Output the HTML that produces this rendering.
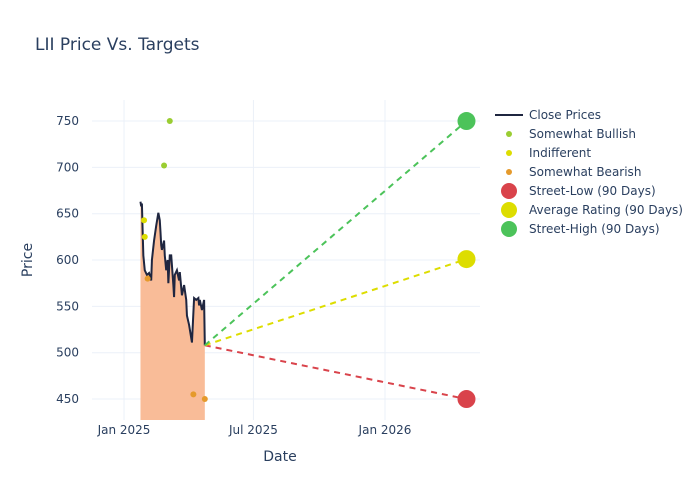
<!DOCTYPE html>
<html><head><meta charset="utf-8"><style>
body{margin:0;background:#fff;font-family:"DejaVu Sans",sans-serif}
text{font-family:"DejaVu Sans",sans-serif;fill:#2a3f5f}
</style></head><body>
<svg id="chart" width="700" height="500">
<rect width="700" height="500" fill="#fff"/>
<text x="35" y="50" font-size="17">LII Price Vs. Targets</text>
<g id="grid"></g><g id="marks"></g><g id="axes"></g><g id="legend"></g>
</svg>
<script>
const closeDays=[23,24,25,26,27,29,32,35,38,39,42,45,48,50,51,52,53,56,57,59,61,62,64,66,69,70,71,74,77,78,81,84,87,88,91,95,98,101,104,105,106,109,112,113];
const closePrices=[663,658,661,632,605,589,584,586,578,600,621,637,651,643,630,616,611,621,605,589,600,575,605,605,573,560,584,589,578,587,562,573,557,540,530,511,559,557,559,551,557,546,557,508];
const bullishDays=[56,64];const bullishVals=[702,750];
const indiffDays=[28,29];const indiffVals=[643,625];
const bearishDays=[33,97,113];const bearishVals=[580,455,450];
const targetDay=479;const targetLow=450;const targetAvg=601;const targetHigh=750;
const yTicks=[450,500,550,600,650,700,750];
const xTickDays=[0,181,365];const xTickLabels=["Jan 2025","Jul 2025","Jan 2026"];
const X0=92,X1=480,Y0=100,Y1=420,D0=-44.8,D1=497.9,P0=427.4,P1=772.7;
const xs=d=>X0+(d-D0)/(D1-D0)*(X1-X0);
const ys=p=>Y1-(p-P0)/(P1-P0)*(Y1-Y0);
const NS="http://www.w3.org/2000/svg";
function mk(parent,tag,attrs){const e=document.createElementNS(NS,tag);for(const k in attrs)e.setAttribute(k,attrs[k]);document.getElementById(parent).appendChild(e);return e;}
yTicks.forEach(t=>{
 const l=mk('grid','line',{x1:X0,x2:X1,y1:ys(t),y2:ys(t),stroke:'#ebf0f8'});
 
 
 const tx=mk('axes','text',{x:X0-13,y:ys(t)+4,'font-size':12,'text-anchor':'end'});tx.textContent=t;
 
 
});
xTickDays.forEach((d,i)=>{
 const l=mk('grid','line',{x1:xs(d),x2:xs(d),y1:Y0,y2:Y1,stroke:'#ebf0f8'});
 
 
 const tx=mk('axes','text',{x:xs(d),y:Y1+14,'font-size':12,'text-anchor':'middle'});tx.textContent=xTickLabels[i];
 
 
});
let t=mk('axes','text',{x:280,y:461,'font-size':14,'text-anchor':'middle'});t.textContent='Date';


let t2=mk('axes','text',{x:32,y:260,'font-size':14,'text-anchor':'middle',transform:'rotate(-90 32 260)'});t2.textContent='Price';


let pts=closeDays.map((d,i)=>xs(d)+','+ys(closePrices[i])).join(' ');
let area=mk('marks','polygon',{points:xs(closeDays[0])+','+Y1+' '+pts+' '+xs(closeDays[closeDays.length-1])+','+Y1,fill:'#f9bc98',stroke:'none'});


let line=mk('marks','polyline',{points:pts,fill:'none',stroke:'#1f2640','stroke-width':2});


const lastD=closeDays[closeDays.length-1],lastP=closePrices[closePrices.length-1];
[[targetLow,'#d9434b','street-low'],[targetAvg,'#dddd00','average-rating'],[targetHigh,'#4cc35a','street-high']].forEach(([v,c,n])=>{
 const l=mk('marks','line',{x1:xs(lastD),y1:ys(lastP),x2:xs(targetDay),y2:ys(v),stroke:c,'stroke-width':2,'stroke-dasharray':'6,5'});
 
 
 const m=mk('marks','circle',{cx:xs(targetDay),cy:ys(v),r:9,fill:c});
 
 
});
[[bullishDays,bullishVals,'#9acd32','somewhat-bullish-point'],[indiffDays,indiffVals,'#dddd00','indifferent-point'],[bearishDays,bearishVals,'#e59a2c','somewhat-bearish-point']].forEach(([ds,vs,c,n])=>{
 ds.forEach((d,i)=>{const m=mk('marks','circle',{cx:xs(d),cy:ys(vs[i]),r:3,fill:c});
 
 });
});
const leg=[['line','#1f2640','Close Prices'],['dot','#9acd32','Somewhat Bullish'],['dot','#dddd00','Indifferent'],['dot','#e59a2c','Somewhat Bearish'],['big','#d9434b','Street-Low (90 Days)'],['big','#dddd00','Average Rating (90 Days)'],['big','#4cc35a','Street-High (90 Days)']];
leg.forEach((e,i)=>{
 const y=115+i*19;
 if(e[0]==='line'){const l=mk('legend','line',{x1:495,x2:523,y1:y,y2:y,stroke:e[1],'stroke-width':2});}
 else{const c=mk('legend','circle',{cx:509,cy:y,r:e[0]==='big'?8:3,fill:e[1]});}
 const tx=mk('legend','text',{x:529,y:y+4,'font-size':12});tx.textContent=e[2];
 
 
});
</script>
</body></html>
